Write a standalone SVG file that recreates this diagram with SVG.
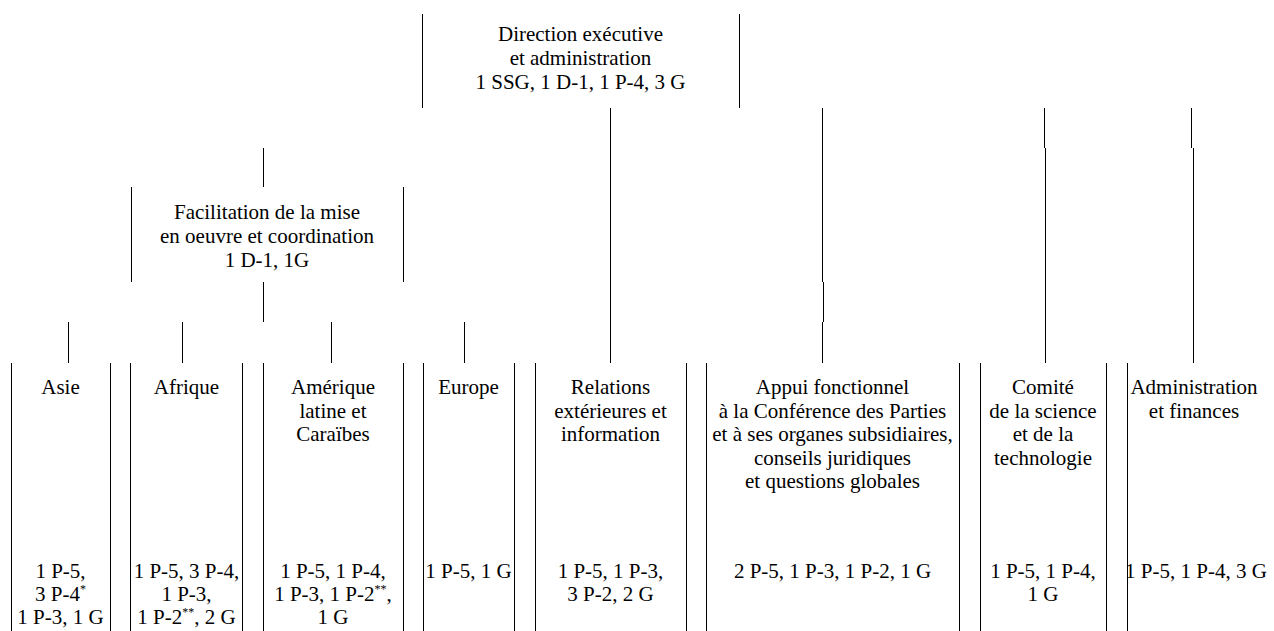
<svg xmlns="http://www.w3.org/2000/svg" width="1274" height="631" viewBox="0 0 1274 631">
<style>
.t{font-family:"Liberation Serif","Times New Roman",serif;font-size:21px;fill:#000;text-anchor:middle}
.s{font-size:12px}
.b{stroke:#000;stroke-width:1;fill:none}
.c{stroke:#000;stroke-width:1;fill:none}
</style>
<rect width="1274" height="631" fill="#fff"/>
<g id="connectors">
<path class="c" d="M610.5 108V363"/>
<path class="c" d="M822.5 108V282M823.5 282V322M822.5 322V363"/>
<path class="c" d="M1044.5 108V148M1045.5 148V363"/>
<path class="c" d="M1191.5 108V148M1193.5 148V363"/>
<path class="c" d="M263.5 148V187M263.5 282V322"/>
<path class="c" d="M68.5 322V363M182.5 322V363M331.5 322V363M464.5 322V363"/>
</g>
<g id="direction">
<path class="b" d="M422.5 14V108M739.5 14V108"/>
<text class="t" x="580.5" y="41">Direction exécutive</text>
<text class="t" x="580.5" y="65">et administration</text>
<text class="t" x="580.5" y="89">1 SSG, 1 D-1, 1 P-4, 3 G</text>
</g>
<g id="facilitation">
<path class="b" d="M131.5 187V282M403.5 187V282"/>
<text class="t" x="267" y="219">Facilitation de la mise</text>
<text class="t" x="267" y="243">en oeuvre et coordination</text>
<text class="t" x="267" y="267">1 D-1, 1G</text>
</g>
<g id="asie">
<path class="b" d="M11.5 363V631M110.5 363V631"/>
<text class="t" x="60.5" y="394">Asie</text>
<text class="t" x="60.5" y="578">1 P-5,</text>
<text class="t" x="60.5" y="601">3 P-4<tspan class="s" dy="-8">*</tspan></text>
<text class="t" x="60.5" y="624">1 P-3, 1 G</text>
</g>
<g id="afrique">
<path class="b" d="M130.5 363V631M242.5 363V631"/>
<text class="t" x="186.5" y="394">Afrique</text>
<text class="t" x="186.5" y="578">1 P-5, 3 P-4,</text>
<text class="t" x="186.5" y="601">1 P-3,</text>
<text class="t" x="186.5" y="624">1 P-2<tspan class="s" dy="-8">**</tspan><tspan dy="8">, 2 G</tspan></text>
</g>
<g id="amerique">
<path class="b" d="M263.5 363V631M403.5 363V631"/>
<text class="t" x="333" y="394">Amérique</text>
<text class="t" x="333" y="417.5">latine et</text>
<text class="t" x="333" y="441">Caraïbes</text>
<text class="t" x="333" y="578">1 P-5, 1 P-4,</text>
<text class="t" x="333" y="601">1 P-3, 1 P-2<tspan class="s" dy="-8">**</tspan><tspan dy="8">,</tspan></text>
<text class="t" x="333" y="624">1 G</text>
</g>
<g id="europe">
<path class="b" d="M423.5 363V631M514.5 363V631"/>
<text class="t" x="468.5" y="394">Europe</text>
<text class="t" x="468.5" y="578">1 P-5, 1 G</text>
</g>
<g id="relations">
<path class="b" d="M535.5 363V631M686.5 363V631"/>
<text class="t" x="610.5" y="394">Relations</text>
<text class="t" x="610.5" y="417.5">extérieures et</text>
<text class="t" x="610.5" y="441">information</text>
<text class="t" x="610.5" y="578">1 P-5, 1 P-3,</text>
<text class="t" x="610.5" y="601">3 P-2, 2 G</text>
</g>
<g id="appui">
<path class="b" d="M706.5 363V631M959.5 363V631"/>
<text class="t" x="832.5" y="394">Appui fonctionnel</text>
<text class="t" x="832.5" y="417.5">à la Conférence des Parties</text>
<text class="t" x="832.5" y="441">et à ses organes subsidiaires,</text>
<text class="t" x="832.5" y="464.5">conseils juridiques</text>
<text class="t" x="832.5" y="488">et questions globales</text>
<text class="t" x="832.5" y="578">2 P-5, 1 P-3, 1 P-2, 1 G</text>
</g>
<g id="comite">
<path class="b" d="M980.5 363V631M1106.5 363V631"/>
<text class="t" x="1043" y="394">Comité</text>
<text class="t" x="1043" y="417.5">de la science</text>
<text class="t" x="1043" y="441">et de la</text>
<text class="t" x="1043" y="464.5">technologie</text>
<text class="t" x="1043" y="578">1 P-5, 1 P-4,</text>
<text class="t" x="1043" y="601">1 G</text>
</g>
<g id="administration">
<path class="b" d="M1127.5 363V631"/>
<text class="t" x="1194" y="394">Administration</text>
<text class="t" x="1194" y="417.5">et finances</text>
<text class="t" x="1196" y="578">1 P-5, 1 P-4, 3 G</text>
</g>
</svg>
